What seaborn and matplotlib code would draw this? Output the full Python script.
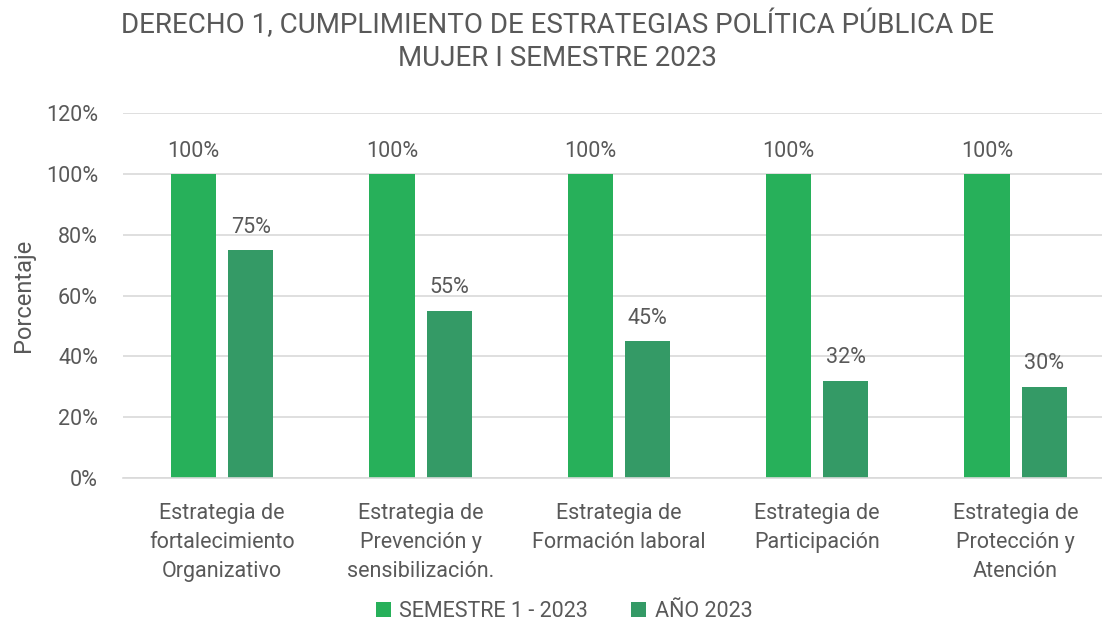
import seaborn as sns
import pandas as pd
import numpy as np
import matplotlib.pyplot as plt
from matplotlib.ticker import PercentFormatter

categorias = ['Estrategia de\nfortalecimiento\nOrganizativo',
              'Estrategia de\nPrevención y\nsensibilización.',
              'Estrategia de\nFormación laboral',
              'Estrategia de\nParticipación',
              'Estrategia de\nProtección y\nAtención']
semestre = [100, 100, 100, 100, 100]
anio = [75, 55, 45, 32, 30]
series = ['SEMESTRE 1 - 2023', 'AÑO 2023']
colores = ['#27b05a', '#349a66']

df = pd.DataFrame({
    'categoria': categorias * 2,
    'serie': [series[0]] * 5 + [series[1]] * 5,
    'valor': semestre + anio,
})

sns.set_style('white')
plt.rcParams['font.family'] = ['Roboto', 'DejaVu Sans']
gris = '#595959'

fig = plt.figure(figsize=(11.02, 6.29), dpi=100)
ax = fig.add_axes([0.1116, 0.240, 0.90, 0.580])
sns.barplot(data=df, x='categoria', y='valor', hue='serie', palette=colores,
            width=0.576, gap=0.21, ax=ax, saturation=1, linewidth=0)

for cont in ax.containers:
    ax.bar_label(cont, labels=[f'{v:.0f}%' for v in cont.datavalues],
                 padding=9, fontsize=15.5, color=gris)

ax.set_ylim(0, 120)
ax.set_yticks(np.arange(0, 121, 20))
ax.yaxis.set_major_formatter(PercentFormatter(decimals=0))
ax.grid(axis='y', color='#d9d9d9', linewidth=1.2)
ax.set_axisbelow(True)
for s in ['top', 'right', 'left']:
    ax.spines[s].set_visible(False)
ax.spines['bottom'].set_color('#d9d9d9')
ax.spines['bottom'].set_linewidth(1.2)
ax.tick_params(axis='y', labelsize=15.5, labelcolor=gris, length=0, pad=18)
ax.tick_params(axis='x', labelsize=15.5, labelcolor=gris, length=0, pad=18)
for t in ax.get_xticklabels():
    t.set_linespacing(1.5)
ax.set_xlabel('')
ax.set_ylabel('Porcentaje', fontsize=17, color=gris, labelpad=8)
fig.suptitle('DERECHO 1, CUMPLIMIENTO DE ESTRATEGIAS POLÍTICA PÚBLICA DE\nMUJER I SEMESTRE 2023',
             fontsize=20, color=gris, x=0.506, y=0.985, linespacing=1.3)

ax.legend(loc='lower center', bbox_to_anchor=(0.445, -0.43), ncol=2, frameon=False,
          fontsize=15.5, labelcolor=gris, handlelength=0.7, handleheight=0.7,
          columnspacing=2.0, handletextpad=0.4, borderaxespad=0.2)

fig.savefig('out.png', dpi=100)
